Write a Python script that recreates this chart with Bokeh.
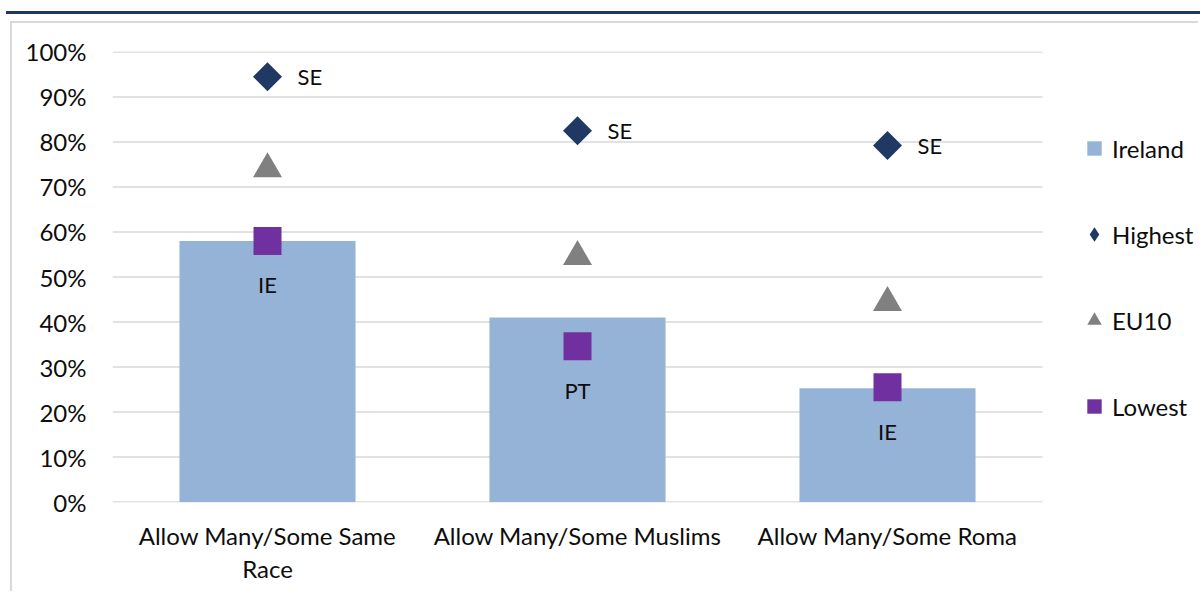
from bokeh.plotting import figure
from bokeh.layouts import column
from bokeh.models import (ColumnDataSource, LabelSet, Legend, LegendItem, Div,
                          NumeralTickFormatter, FixedTicker, Range1d)
from bokeh.core.properties import value
from bokeh.embed import file_html
from bokeh.resources import INLINE
import math

# ---- data ----
categories = ["Allow Many/Some Same Race", "Allow Many/Some Muslims", "Allow Many/Some Roma"]
category_labels = ["Allow Many/Some Same\nRace", "Allow Many/Some Muslims", "Allow Many/Some Roma"]
ireland = [0.58, 0.41, 0.253]
highest = [0.945, 0.825, 0.792]
eu10 = [0.74, 0.545, 0.443]
lowest = [0.58, 0.346, 0.255]
highest_labels = ["SE", "SE", "SE"]
lowest_labels = ["IE", "PT", "IE"]
y_ticks = [0, 0.1, 0.2, 0.3, 0.4, 0.5, 0.6, 0.7, 0.8, 0.9, 1.0]

FONT = "Lato"
TXT = "#0d0d0d"
C_IRL, C_HI, C_EU, C_LO = "#95B3D7", "#1F3864", "#808080", "#7030A0"

n = len(categories)
xpos = list(range(n))
src = ColumnDataSource(dict(x=xpos, cat=categories, ireland=ireland, highest=highest,
                            eu10=eu10, lowest=lowest,
                            hl=highest_labels, ll=lowest_labels))

# geometry (pixels)
W, H = 1188, 570
LEFT, TOP, BOTTOM = 100, 28, 91
PLOT_W = 930                      # width used by the three categories
FRAME_W = W - LEFT                # frame runs to the right edge (legend lives there)
x_end = -0.5 + n * FRAME_W / PLOT_W

p = figure(x_range=Range1d(-0.5, x_end), y_range=Range1d(-0.001, 1.001),
           width=W, height=H, output_backend="svg", toolbar_location=None,
           min_border_left=LEFT, min_border_right=0, min_border_top=TOP,
           min_border_bottom=BOTTOM)
p.outline_line_color = None
p.background_fill_color = "white"
p.border_fill_color = "white"
p.margin = (7, 0, 0, 10)
p.styles = {"border-left": "2px solid #d9d9d9", "border-top": "2px solid #d9d9d9"}
# a range that is never on screen, used only for legend swatches
p.extra_y_ranges = {"swatch": Range1d(10, 11)}

# horizontal gridlines limited to the plot area
p.segment(x0=[-0.5] * len(y_ticks), x1=[n - 0.5] * len(y_ticks), y0=y_ticks, y1=y_ticks,
          line_color="#d9d9d9", line_width=1.5)
p.xgrid.grid_line_color = None
p.ygrid.grid_line_color = None

r_bar = p.vbar(x="x", top="ireland", width=0.568, source=src,
               fill_color=C_IRL, line_color=None)
r_hi = p.scatter(x="x", y="highest", source=src, marker="square", size=20.5,
                 angle=math.pi / 4, fill_color=C_HI, line_color=None)
r_eu = p.scatter(x="x", y="eu10", source=src, marker="triangle", size=29,
                 fill_color=C_EU, line_color=None)
r_lo = p.scatter(x="x", y="lowest", source=src, marker="square", size=28,
                 fill_color=C_LO, line_color=None)

# legend swatches (same series, mapped to the off-screen range)
leg_irl = p.scatter(x="x", y="ireland", source=src, y_range_name="swatch", marker="square",
                    size=15, fill_color=C_IRL, line_color=None)
leg_hi = p.scatter(x="x", y="highest", source=src, y_range_name="swatch", marker="diamond",
                   size=15, fill_color=C_HI, line_color=None)

p.add_layout(LabelSet(x="x", y="highest", text="hl", source=src, x_offset=30,
                      text_align="left", text_baseline="middle",
                      text_font=value(FONT), text_font_size=value("22px"),
                      text_color=TXT))
p.add_layout(LabelSet(x="x", y="lowest", text="ll", source=src, y_offset=-44,
                      text_align="center", text_baseline="middle",
                      text_font=value(FONT), text_font_size=value("22px"),
                      text_color=TXT))

# axes
p.yaxis.ticker = FixedTicker(ticks=y_ticks)
p.yaxis.formatter = NumeralTickFormatter(format="0%")
p.yaxis.axis_line_color = None
p.yaxis.major_tick_line_color = None
p.yaxis.minor_tick_line_color = None
p.yaxis.major_tick_out = 0
p.yaxis.major_label_standoff = 26
p.yaxis.major_label_text_font = FONT
p.yaxis.major_label_text_font_size = "24px"
p.yaxis.major_label_text_color = TXT

p.xaxis.ticker = FixedTicker(ticks=xpos)
p.xaxis.major_label_overrides = {i: lab for i, lab in zip(xpos, category_labels)}
p.xaxis.axis_line_color = None
p.xaxis.major_tick_line_color = None
p.xaxis.minor_tick_line_color = None
p.xaxis.major_tick_out = 0
p.xaxis.major_label_standoff = 18
p.xaxis.major_label_text_font = FONT
p.xaxis.major_label_text_font_size = "24px"
p.xaxis.major_label_text_color = TXT
p.xaxis.major_label_text_line_height = 1.14

legend = Legend(items=[LegendItem(label="Ireland", renderers=[leg_irl]),
                       LegendItem(label="Highest", renderers=[leg_hi]),
                       LegendItem(label="EU10", renderers=[r_eu]),
                       LegendItem(label="Lowest", renderers=[r_lo])],
                location=(PLOT_W + 34, 77), orientation="vertical",
                glyph_width=36, glyph_height=38, label_height=38,
                spacing=48, padding=0, margin=0, label_standoff=0,
                border_line_color=None, background_fill_alpha=0,
                label_text_font=FONT, label_text_font_size="24px",
                label_text_color=TXT)
p.add_layout(legend, "center")

rule = Div(text="", width=1194, height=3, margin=(11, 0, 0, 6),
           styles={"background-color": "#1F3864"})

layout = column(rule, p, spacing=0)
open("out.html", "w").write(file_html(layout, INLINE))
